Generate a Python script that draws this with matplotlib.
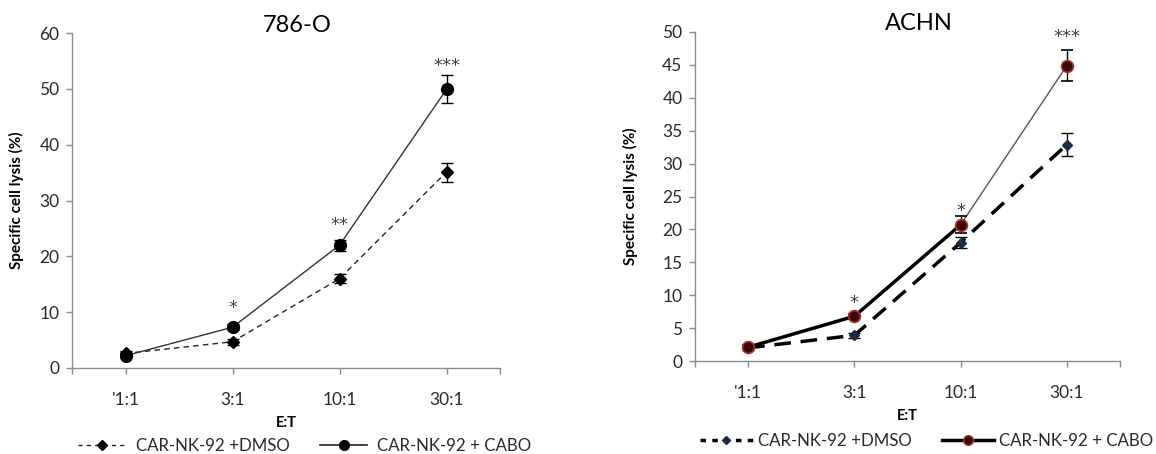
import matplotlib
matplotlib.use("Agg")
import matplotlib.pyplot as plt
from matplotlib.lines import Line2D

plt.rcParams['font.family'] = ['Lato', 'DejaVu Sans']

categories = ["'1:1", "3:1", "10:1", "30:1"]

# 786-O
o_dmso = [2.6, 4.7, 16.0, 35.1]
o_dmso_err = [0.5, 0.5, 0.8, 1.7]
o_cabo = [2.2, 7.3, 22.0, 49.9]
o_cabo_err = [0.3, 0.5, 1.0, 2.5]
o_stars = ["", "*", "**", "***"]
o_star_y = [0, 10.8, 25.6, 54.0]

# ACHN
a_dmso = [2.0, 3.9, 18.0, 32.9]
a_dmso_err = [0.3, 0.4, 0.9, 1.7]
a_cabo = [2.1, 6.8, 20.7, 44.9]
a_cabo_err = [0.3, 0.4, 1.3, 2.3]
a_stars = ["", "*", "*", "***"]
a_star_y = [0, 8.8, 22.8, 49.2]

legend_labels = ["CAR-NK-92 +DMSO", "CAR-NK-92 + CABO"]

W, H = 1156, 454
fig = plt.figure(figsize=(W / 100, H / 100), dpi=100)

axL = fig.add_axes([72 / W, 1 - 368 / H, 428 / W, 335 / H])
axR = fig.add_axes([695 / W, 1 - 361 / H, 425 / W, 329 / H])

xs = [i + 0.5 for i in range(len(categories))]
spine_c = '#8c8c8c'
txt_c = '#2a2a2a'


def style(ax, ymax, ystep):
    ax.set_xlim(0, 4)
    ax.set_ylim(0, ymax)
    ax.set_yticks(range(0, ymax + 1, ystep))
    ax.set_xticks(xs)
    ax.set_xticklabels(categories)
    ax.set_xticks([0, 4], minor=True)
    for s in ['top', 'right']:
        ax.spines[s].set_visible(False)
    for s in ['left', 'bottom']:
        ax.spines[s].set_color(spine_c)
        ax.spines[s].set_linewidth(1.0)
    ax.tick_params(axis='both', which='both', color=spine_c, length=4, width=1,
                   labelsize=12.5, labelcolor=txt_c)
    ax.tick_params(axis='y', pad=5)
    ax.tick_params(axis='x', pad=13)
    ax.set_ylabel("Specific cell lysis (%)", fontsize=11, fontweight='bold',
                  color='black')
    ax.set_xlabel("E:T", fontsize=10.5, fontweight='bold', color='black',
                  labelpad=6)


def stars(ax, labels, ys):
    for x, s, y in zip(xs, labels, ys):
        if s:
            ax.text(x, y, s, ha='center', va='center', fontsize=13,
                    color='#404040', family='DejaVu Sans')


# Left panel
style(axL, 60, 10)
axL.errorbar(xs, o_dmso, yerr=o_dmso_err, color='#222222', ls=(0, (4, 3)),
             lw=1.0, marker='D', ms=6, mfc='black', mec='black',
             ecolor='black', elinewidth=1, capsize=4, zorder=3)
axL.errorbar(xs, o_cabo, yerr=o_cabo_err, color='#333333', ls='-', lw=1.0,
             marker='o', ms=8.5, mfc='black', mec='black',
             ecolor='black', elinewidth=1, capsize=4, zorder=4)
stars(axL, o_stars, o_star_y)
axL.yaxis.set_label_coords(-0.112, 0.5)
fig.text(297 / W, 1 - 25 / H, "786-O", ha='center', va='center', fontsize=17,
         color='black')

# Right panel
style(axR, 50, 5)
axR.plot(xs, a_dmso, color='black', ls=(0, (4.8, 2.8)), lw=2.5, zorder=2)
axR.errorbar(xs, a_dmso, yerr=a_dmso_err, ls='none', marker='D', ms=5,
             mfc='#1c2a44', mec='#1c2a44', ecolor='black', elinewidth=1,
             capsize=4, zorder=3)
axR.plot(xs[:3], a_cabo[:3], color='black', lw=2.5, zorder=3)
axR.plot(xs[2:], a_cabo[2:], color='#555555', lw=1.0, zorder=3)
axR.errorbar(xs, a_cabo, yerr=a_cabo_err, ls='none', marker='o', ms=8.5,
             mfc='#3a0a0a', mec='#b03030', mew=1.2, ecolor='black',
             elinewidth=1, capsize=4, zorder=4)
stars(axR, a_stars, a_star_y)
axR.yaxis.set_label_coords(-0.134, 0.5)
fig.text(919 / W, 1 - 24 / H, "ACHN", ha='center', va='center', fontsize=17,
         color='black')

# Legends
hL = [Line2D([], [], color='#222222', ls=(0, (3, 3)), lw=1.0, marker='D', ms=5,
             mfc='black', mec='black'),
      Line2D([], [], color='#222222', ls='-', lw=1.2, marker='o', ms=7,
             mfc='black', mec='black')]
fig.legend(hL, legend_labels, loc='center left',
           bbox_to_anchor=(78 / W, 1 - 446 / H), borderaxespad=0, borderpad=0,
           ncol=2, frameon=False, fontsize=12.2, handlelength=2.8,
           handletextpad=0.6, columnspacing=1.8, labelcolor=txt_c)

hR = [Line2D([], [], color='black', ls=(0, (1.6, 1.8)), lw=2.5, marker='D', ms=4.5,
             mfc='#1c2a44', mec='#1c2a44'),
      Line2D([], [], color='black', ls='-', lw=2.5, marker='o', ms=7,
             mfc='#3a0a0a', mec='#b03030')]
fig.legend(hR, legend_labels, loc='center left',
           bbox_to_anchor=(700 / W, 1 - 441 / H), borderaxespad=0, borderpad=0,
           ncol=2, frameon=False, fontsize=12.2, handlelength=3.1,
           handletextpad=0.3, columnspacing=1.8, labelcolor=txt_c)

fig.savefig("out.png", dpi=100, facecolor='white')
